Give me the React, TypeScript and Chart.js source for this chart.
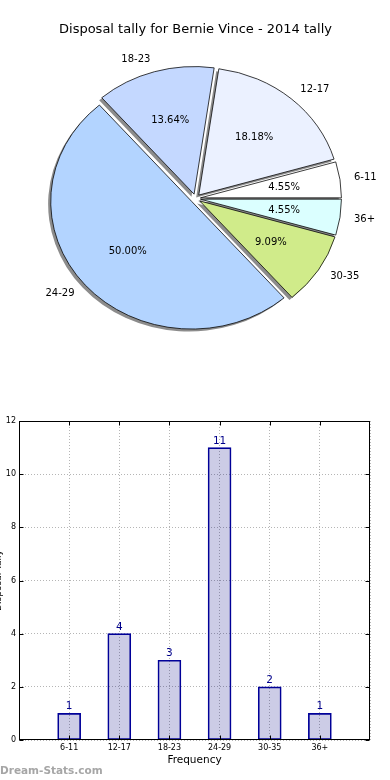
import React, { useEffect, useRef } from "react";
import { Chart, registerables } from "chart.js";

Chart.register(...registerables);
Chart.defaults.font.family = "'DejaVu Sans', sans-serif";
Chart.defaults.color = "#000";

// ---------- data ----------
const TITLE = "Disposal tally for Bernie Vince - 2014 tally";
const CATEGORIES = ["6-11", "12-17", "18-23", "24-29", "30-35", "36+"];
const COUNTS = [1, 4, 3, 11, 2, 1];
const PIE_COLORS = ["#ffffff", "#ebf1ff", "#c4d8ff", "#b3d4ff", "#d0eb8a", "#dbffff"];
const Y_TICKS = [0, 2, 4, 6, 8, 10, 12];
const X_TITLE = "Frequency";
const Y_TITLE = "Disposal Tally";
const WATERMARK = "Dream-Stats.com";

// ---------- pie styling ----------
const PIE_RADIUS = 141;
const PIE_SY = 0.905; // vertical squash (elliptical pie)
const EXPLODE = 5;
const SHADOW_DX = -2.6;
const SHADOW_DY = 2.8;
const LABEL_DIST = 1.1;
const PCT_DIST = 0.6;

const pieDrawPlugin = {
  id: "pieDraw",
  beforeDatasetsDraw(chart: any) {
    const ctx: CanvasRenderingContext2D = chart.ctx;
    const meta = chart.getDatasetMeta(0);
    const arcs = meta.data;
    if (!arcs.length) return false;
    const total = (chart.data.datasets[0].data as number[]).reduce((a, b) => a + b, 0);
    const geo = arcs.map((a: any, i: number) => {
      const p = a.getProps(["x", "y", "startAngle", "endAngle", "outerRadius"], true);
      const mid = (p.startAngle + p.endAngle) / 2;
      return {
        ...p,
        mid,
        ox: p.x + Math.cos(mid) * EXPLODE,
        oy: p.y + Math.sin(mid) * EXPLODE,
        opt: a.options,
        label: chart.data.labels[i],
        value: chart.data.datasets[0].data[i],
      };
    });
    const cx = geo[0].x;
    const cy = geo[0].y;
    ctx.save();
    ctx.translate(cx, cy);
    ctx.scale(1, PIE_SY);
    ctx.translate(-cx, -cy);
    // shadows
    ctx.fillStyle = "rgba(0,0,0,0.45)";
    geo.forEach((g: any) => {
      ctx.beginPath();
      ctx.moveTo(g.ox + SHADOW_DX, g.oy + SHADOW_DY);
      ctx.arc(g.ox + SHADOW_DX, g.oy + SHADOW_DY, g.outerRadius, g.startAngle, g.endAngle);
      ctx.closePath();
      ctx.fill();
    });
    // wedges
    geo.forEach((g: any) => {
      ctx.beginPath();
      ctx.moveTo(g.ox, g.oy);
      ctx.arc(g.ox, g.oy, g.outerRadius, g.startAngle, g.endAngle);
      ctx.closePath();
      ctx.fillStyle = g.opt.backgroundColor;
      ctx.fill();
      ctx.lineWidth = g.opt.borderWidth;
      ctx.strokeStyle = g.opt.borderColor;
      ctx.lineJoin = "miter";
      ctx.stroke();
    });
    ctx.restore();
    // labels
    ctx.save();
    ctx.fillStyle = "#000";
    ctx.font = "10px 'DejaVu Sans', sans-serif";
    ctx.textBaseline = "middle";
    const mapY = (y: number) => cy + (y - cy) * PIE_SY;
    geo.forEach((g: any) => {
      const c = Math.cos(g.mid);
      const s = Math.sin(g.mid);
      const lx = g.ox + c * LABEL_DIST * g.outerRadius;
      const ly = mapY(g.oy + s * LABEL_DIST * g.outerRadius);
      ctx.textAlign = c > 0 ? "left" : "right";
      ctx.fillText(String(g.label), lx, ly);
      const px = g.ox + c * PCT_DIST * g.outerRadius;
      const py = mapY(g.oy + s * PCT_DIST * g.outerRadius);
      ctx.textAlign = "center";
      ctx.fillText(((g.value / total) * 100).toFixed(2) + "%", px, py);
    });
    ctx.restore();
    return false;
  },
};

const barDecorPlugin = {
  id: "barDecor",
  afterDatasetsDraw(chart: any) {
    const ctx: CanvasRenderingContext2D = chart.ctx;
    const { left, right, top, bottom } = chart.chartArea;
    const xs = chart.scales.x;
    const ys = chart.scales.y;
    ctx.save();
    // value labels
    const meta = chart.getDatasetMeta(0);
    const vals = chart.data.datasets[0].data;
    ctx.fillStyle = "#00008b";
    ctx.font = "10.5px 'DejaVu Sans', sans-serif";
    ctx.textAlign = "center";
    ctx.textBaseline = "alphabetic";
    meta.data.forEach((bar: any, i: number) => {
      const v = vals[i];
      if (v === null || v === undefined) return;
      ctx.fillText(String(v), bar.x, bar.y - 4);
    });
    // frame
    ctx.strokeStyle = "#000";
    ctx.lineWidth = 1;
    const L = Math.round(left) + 0.5;
    const R = Math.round(right) - 0.5;
    const T = Math.round(top) + 0.5;
    const B = Math.round(bottom) - 0.5;
    ctx.strokeRect(L, T, R - L, B - T);
    // inward ticks
    ctx.beginPath();
    Y_TICKS.forEach((v) => {
      const py = Math.round(ys.getPixelForValue(v)) + 0.5;
      ctx.moveTo(L, py);
      ctx.lineTo(L + 4, py);
      ctx.moveTo(R, py);
      ctx.lineTo(R - 4, py);
    });
    CATEGORIES.forEach((_, i) => {
      const px = Math.round(xs.getPixelForTick(i + 1)) + 0.5;
      ctx.moveTo(px, B);
      ctx.lineTo(px, B - 4);
      ctx.moveTo(px, T);
      ctx.lineTo(px, T + 4);
    });
    ctx.stroke();
    ctx.restore();
  },
};

export default function App() {
  const pieRef = useRef<HTMLCanvasElement>(null);
  const barRef = useRef<HTMLCanvasElement>(null);

  useEffect(() => {
    const pieLabels = [...CATEGORIES].reverse();
    const pieData = [...COUNTS].reverse();
    const pieColors = [...PIE_COLORS].reverse();
    const pie = new Chart(pieRef.current as HTMLCanvasElement, {
      type: "pie",
      data: {
        labels: pieLabels,
        datasets: [
          {
            data: pieData,
            backgroundColor: pieColors,
            borderColor: "#000",
            borderWidth: 0.8,
          },
        ],
      },
      options: {
        animation: false,
        responsive: true,
        maintainAspectRatio: false,
        rotation: 90,
        radius: PIE_RADIUS,
        layout: { padding: { left: 1, right: 0, top: 0, bottom: 40.6 } },
        plugins: {
          legend: { display: false },
          tooltip: { enabled: false },
          title: {
            display: true,
            text: TITLE,
            color: "#000",
            font: { size: 13, weight: "normal", family: "'DejaVu Sans', sans-serif" },
            padding: { top: 22, bottom: 0 },
          },
        },
      } as any,
      plugins: [pieDrawPlugin],
    });

    const barLabels = ["", ...CATEGORIES, ""];
    const barData = [null, ...COUNTS, null];
    const gridCommon = { color: "#b5b5b5", lineWidth: 1, drawTicks: false };
    const bar = new Chart(barRef.current as HTMLCanvasElement, {
      type: "bar",
      data: {
        labels: barLabels,
        datasets: [
          {
            data: barData,
            backgroundColor: "rgba(0,0,128,0.2)",
            borderColor: "#00009a",
            borderWidth: 1,
            borderSkipped: false,
            barThickness: 23,
          },
        ],
      },
      options: {
        animation: false,
        responsive: true,
        maintainAspectRatio: false,
        layout: { padding: { left: 0, right: 20, top: 21, bottom: 0 } },
        plugins: { legend: { display: false }, tooltip: { enabled: false } },
        scales: {
          x: {
            type: "category",
            offset: false,
            grid: { ...gridCommon, offset: false },
            border: { display: false, dash: [1, 2] },
            ticks: { font: { size: 8 }, color: "#000", padding: 3, autoSkip: false, maxRotation: 0 },
            title: {
              display: true,
              text: X_TITLE,
              color: "#000",
              font: { size: 10.5 },
              padding: { top: 0, bottom: 13.7 },
            },
            afterFit: (s: any) => {
              s.height = 40;
            },
          },
          y: {
            min: 0,
            max: 12,
            grid: gridCommon,
            border: { display: false, dash: [1, 2] },
            ticks: { font: { size: 8 }, color: "#000", padding: 3 },
            afterBuildTicks: (s: any) => {
              s.ticks = Y_TICKS.map((v) => ({ value: v }));
            },
            title: {
              display: true,
              text: Y_TITLE,
              color: "#000",
              font: { size: 9 },
              padding: 0,
            },
            afterFit: (s: any) => {
              s.width = 26;
            },
          },
        },
      } as any,
      plugins: [barDecorPlugin],
    });

    return () => {
      pie.destroy();
      bar.destroy();
    };
  }, []);

  return (
    <div
      style={{
        position: "fixed",
        left: 0,
        top: 0,
        width: 390,
        height: 780,
        background: "#fff",
        overflow: "hidden",
      }}
    >
      <div style={{ position: "absolute", left: 0, top: 0, width: 390, height: 400 }}>
        <canvas ref={pieRef} />
      </div>
      <div style={{ position: "absolute", left: -7, top: 400, width: 397, height: 380 }}>
        <canvas ref={barRef} />
      </div>
      <div
        style={{
          position: "absolute",
          left: 0,
          top: 763,
          fontFamily: "'DejaVu Sans', sans-serif",
          fontWeight: "bold",
          fontSize: 10.5,
          lineHeight: "14px",
          color: "#a6a6a6",
          whiteSpace: "nowrap",
        }}
      >
        {WATERMARK}
      </div>
    </div>
  );
}
